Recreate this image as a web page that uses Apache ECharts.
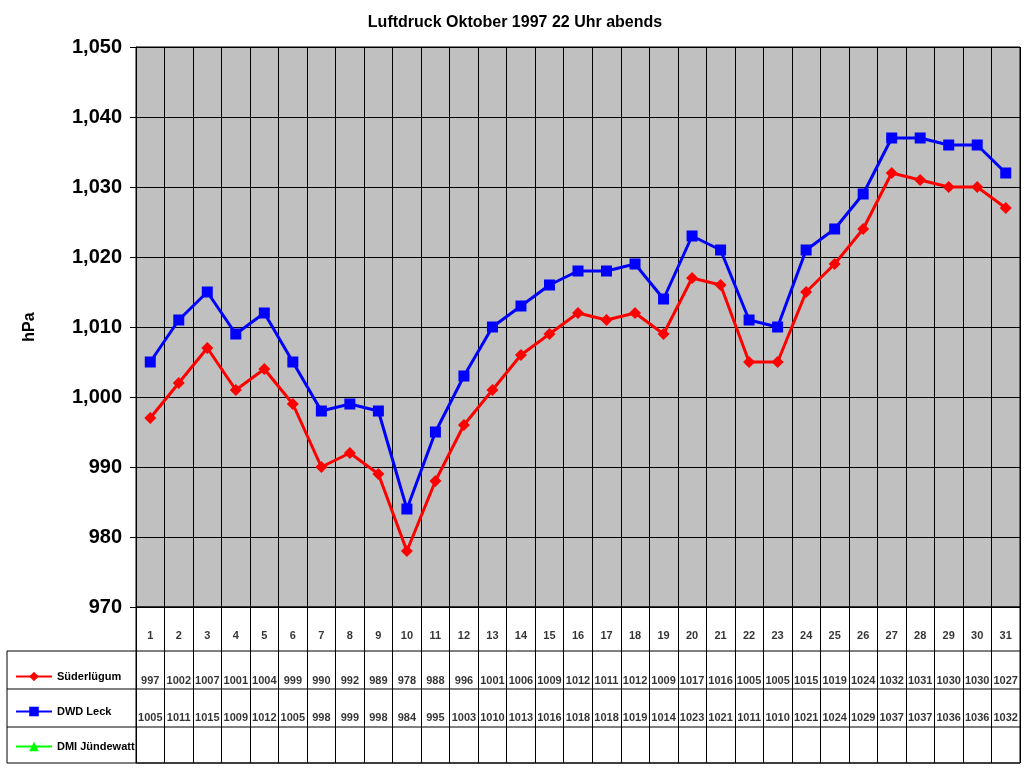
<!DOCTYPE html>
<html><head><meta charset="utf-8">
<script src="https://cdn.jsdelivr.net/npm/echarts@6/dist/echarts.min.js"></script>
<style>html,body{margin:0;background:#fff}#c{width:1024px;height:768px}</style>
</head><body><div id="c"></div>
<script>
var days = [];
for (var d = 1; d <= 31; d++) days.push(String(d));
var suederluegum = [997,1002,1007,1001,1004,999,990,992,989,978,988,996,1001,1006,1009,1012,1011,1012,1009,1017,1016,1005,1005,1015,1019,1024,1032,1031,1030,1030,1027];
var dwdLeck = [1005,1011,1015,1009,1012,1005,998,999,998,984,995,1003,1010,1013,1016,1018,1018,1019,1014,1023,1021,1011,1010,1021,1024,1029,1037,1037,1036,1036,1032];
var dmiJuendewatt = [];

var chart = echarts.init(document.getElementById('c'));
var font = 'Arial, "Liberation Sans", sans-serif';

// table text rows (y in table-grid pixels from top)
function rowData(vals, y) {
  var out = [];
  for (var i = 0; i < vals.length; i++) out.push([i, y, vals[i]]);
  return out;
}
function tableSeries(vals, y) {
  return {
    type: 'scatter', xAxisIndex: 1, yAxisIndex: 1, symbolSize: 0, silent: true,
    data: rowData(vals, y),
    label: { show: true, position: 'inside', formatter: function (p) { return p.value[2]; },
      color: '#000', fontFamily: font, fontWeight: 'bold', fontSize: 11 }
  };
}
function hline(y) {
  return { type: 'line', shape: { x1: 7, y1: y, x2: 1020, y2: y }, style: { stroke: '#000', lineWidth: 1 } };
}

chart.setOption({
  animation: false,
  title: { text: 'Luftdruck Oktober 1997 22 Uhr abends', left: 510, top: 10, textAlign: 'center',
    textStyle: { fontFamily: font, fontSize: 16, fontWeight: 'bold', color: '#000' } },
  legend: { orient: 'vertical', left: 10, top: 666, itemGap: 24, itemWidth: 36, itemHeight: 12,
    data: ['Süderlügum', 'DWD Leck', 'DMI Jündewatt'],
    textStyle: { fontFamily: font, fontSize: 11, fontWeight: 'bold', color: '#000', padding: [12, 0, 0, 0] } },
  grid: [
    { left: 136, right: 4, top: 47, height: 560, backgroundColor: '#c0c0c0', show: true, borderColor: '#000', borderWidth: 1 },
    { left: 136, right: 4, top: 607, height: 156, show: true, borderColor: '#000', borderWidth: 1, backgroundColor: '#fff' }
  ],
  xAxis: [
    { gridIndex: 0, type: 'category', data: days, boundaryGap: true,
      axisLabel: { show: false }, axisTick: { show: false }, axisLine: { show: false },
      splitLine: { show: true, interval: 0, lineStyle: { color: '#000', width: 1 } } },
    { gridIndex: 1, type: 'category', data: days, boundaryGap: true,
      axisLabel: { show: false }, axisTick: { show: false }, axisLine: { show: false },
      splitLine: { show: true, interval: 0, lineStyle: { color: '#000', width: 1 } } }
  ],
  yAxis: [
    { gridIndex: 0, type: 'value', min: 970, max: 1050, interval: 10,
      name: 'hPa', nameLocation: 'middle', nameGap: 98, nameRotate: 90,
      nameTextStyle: { fontFamily: font, fontSize: 16, fontWeight: 'bold', color: '#000' },
      axisLine: { show: true, lineStyle: { color: '#000' } },
      axisTick: { show: true, inside: false, length: 6, lineStyle: { color: '#000' } },
      axisLabel: { fontFamily: font, fontSize: 20, fontWeight: 'bold', color: '#000', margin: 14 },
      splitLine: { show: true, lineStyle: { color: '#000', width: 1 } } },
    { gridIndex: 1, type: 'value', min: 0, max: 156, inverse: true,
      axisLabel: { show: false }, axisTick: { show: false }, axisLine: { show: false }, splitLine: { show: false } }
  ],
  graphic: [hline(651), hline(689), hline(727), hline(763),
    { type: 'line', shape: { x1: 7, y1: 651, x2: 7, y2: 763 }, style: { stroke: '#000', lineWidth: 1 } }],
  series: [
    { name: 'Süderlügum', type: 'line', data: suederluegum, color: '#ff0000', symbol: 'diamond', symbolSize: 12,
      lineStyle: { width: 3 } },
    { name: 'DWD Leck', type: 'line', data: dwdLeck, color: '#0000ff', symbol: 'rect', symbolSize: 11,
      lineStyle: { width: 3 } },
    { name: 'DMI Jündewatt', type: 'line', data: dmiJuendewatt, color: '#00ff00', symbol: 'triangle', symbolSize: 12,
      lineStyle: { width: 3 } },
    tableSeries(days, 29),
    tableSeries(suederluegum, 74),
    tableSeries(dwdLeck, 111)
  ]
});
</script></body></html>
